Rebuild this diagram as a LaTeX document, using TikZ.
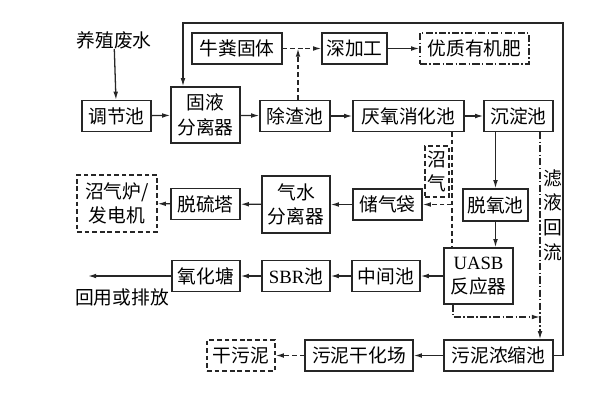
\documentclass[tikz,border=0pt]{standalone}
\usepackage{fontspec}
\setmainfont{Noto Sans CJK SC}
\newfontfamily\latinserif{Liberation Serif}
\usetikzlibrary{arrows.meta}
\tikzset{
  ln/.style={draw=black!85, line width=1.1pt},
  box/.style={ln, rectangle, inner sep=0pt, align=center, font=\fontsize{16}{21}\selectfont},
  arr/.style={ln, -{Latex[length=7pt,width=4pt]}},
  dsh/.style={dash pattern=on 4pt off 2.5pt},
  ddot/.style={dash pattern=on 6pt off 2pt on 1.2pt off 2pt},
  lbl/.style={inner sep=0pt, align=center, font=\fontsize{16}{21}\selectfont}
}
\begin{document}
\begin{tikzpicture}[x=0.3mm,y=-0.3mm]
\useasboundingbox (0,0) rectangle (600,400);
% row 0
\node[lbl] (src) at (114,40) {养殖废水};
\node[box, minimum width=90*0.3mm, minimum height=31*0.3mm] (nf) at (237,48.5) {牛粪固体};
\node[box, minimum width=65*0.3mm, minimum height=31*0.3mm] (sj) at (354.5,48.5) {深加工};
\node[box, ddot, minimum width=109*0.3mm, minimum height=31*0.3mm] (yz) at (474.5,48.5) {优质有机肥};
% row 1
\node[box, minimum width=69*0.3mm, minimum height=31*0.3mm] (tj) at (116.5,116) {调节池};
\node[box, minimum width=69*0.3mm, minimum height=56*0.3mm] (gy) at (205.5,115) {固液\\分离器};
\node[box, minimum width=70*0.3mm, minimum height=31*0.3mm] (cz) at (295,116) {除渣池};
\node[box, minimum width=111*0.3mm, minimum height=31*0.3mm] (yy) at (408.5,116) {厌氧消化池};
\node[box, minimum width=69*0.3mm, minimum height=31*0.3mm] (cd) at (518.5,116) {沉淀池};
% row 2
\node[box, dsh, minimum width=80*0.3mm, minimum height=57*0.3mm] (zl) at (117,203.5) {沼气炉/\\发电机};
\node[box, minimum width=69*0.3mm, minimum height=31*0.3mm] (tl) at (205.5,204) {脱硫塔};
\node[box, minimum width=68*0.3mm, minimum height=57*0.3mm] (qs) at (296,204.5) {气水\\分离器};
\node[box, minimum width=69*0.3mm, minimum height=31*0.3mm] (cq) at (387.5,204.5) {储气袋};
\node[box, dsh, minimum width=24*0.3mm, minimum height=51*0.3mm] (zq) at (437,171.5) {沼\\气};
\node[box, minimum width=65*0.3mm, minimum height=32*0.3mm] (ty) at (495.5,205) {脱氧池};
\node[lbl] (lh) at (553,215) {滤\\液\\回\\流};
% row 3
\node[box, minimum width=69*0.3mm, minimum height=56*0.3mm] (ua) at (478.5,276) {{\latinserif UASB}\\反应器};
\node[box, minimum width=68*0.3mm, minimum height=31*0.3mm] (zj) at (386,276) {中间池};
\node[box, minimum width=68*0.3mm, minimum height=31*0.3mm] (sbr) at (296,276) {{\latinserif SBR}池};
\node[box, minimum width=68*0.3mm, minimum height=31*0.3mm] (yh) at (206,276) {氧化塘};
\node[lbl] (hy) at (122,297) {回用或排放};
\coordinate (out) at (88,276);
% row 4
\node[box, minimum width=109*0.3mm, minimum height=31*0.3mm] (ns) at (498.5,355.5) {污泥浓缩池};
\node[box, minimum width=108*0.3mm, minimum height=31*0.3mm] (gh) at (359,355.5) {污泥干化场};
\node[box, dsh, minimum width=68*0.3mm, minimum height=31*0.3mm] (gw) at (241,355.5) {干污泥};
% helper coordinates
\coordinate (j1) at (298,48.5);
\coordinate (rt) at (563,23);
\coordinate (lt) at (183,23);
\coordinate (rx) at (540,317);
\coordinate (ux) at (453,317);
\coordinate (gx) at (452,204.5);
% connectors
\draw[arr] (src) -- (tj);
\draw[arr] (tj) -- (gy);
\draw[arr] (gy) -- (cz);
\draw[arr] (cz) -- (yy);
\draw[arr] (yy) -- (cd);
\draw[arr, dsh] (nf) -- (sj);
\draw[arr, dsh] (cz.north -| j1) -- (j1);
\draw[arr] (sj) -- (yz);
\draw[arr] (ns.east) -| (rt) -- (lt) -- (lt |- gy.north);
\draw[arr] (ty.north |- cd.south) -- (ty.north);
\draw[arr] (ty.south) -- (ty.south |- ua.north);
\draw[arr, ddot] (cd.south -| rx) -- (ns.north -| rx);
\draw[arr, ddot] (ua.south -| ux) |- (rx);
\draw[ln, dsh] (yy.south -| gx) -- (ua.north -| gx);
\draw[arr, dsh] (gx) -- (cq.east);
\draw[arr] (cq) -- (qs);
\draw[arr] (qs) -- (tl);
\draw[arr] (tl) -- (zl);
\draw[arr] (ua.west |- zj) -- (zj);
\draw[arr] (zj) -- (sbr);
\draw[arr] (sbr) -- (yh);
\draw[arr] (yh) -- (out);
\draw[arr] (ns) -- (gh);
\draw[arr, dsh] (gh) -- (gw);
\end{tikzpicture}
\end{document}
